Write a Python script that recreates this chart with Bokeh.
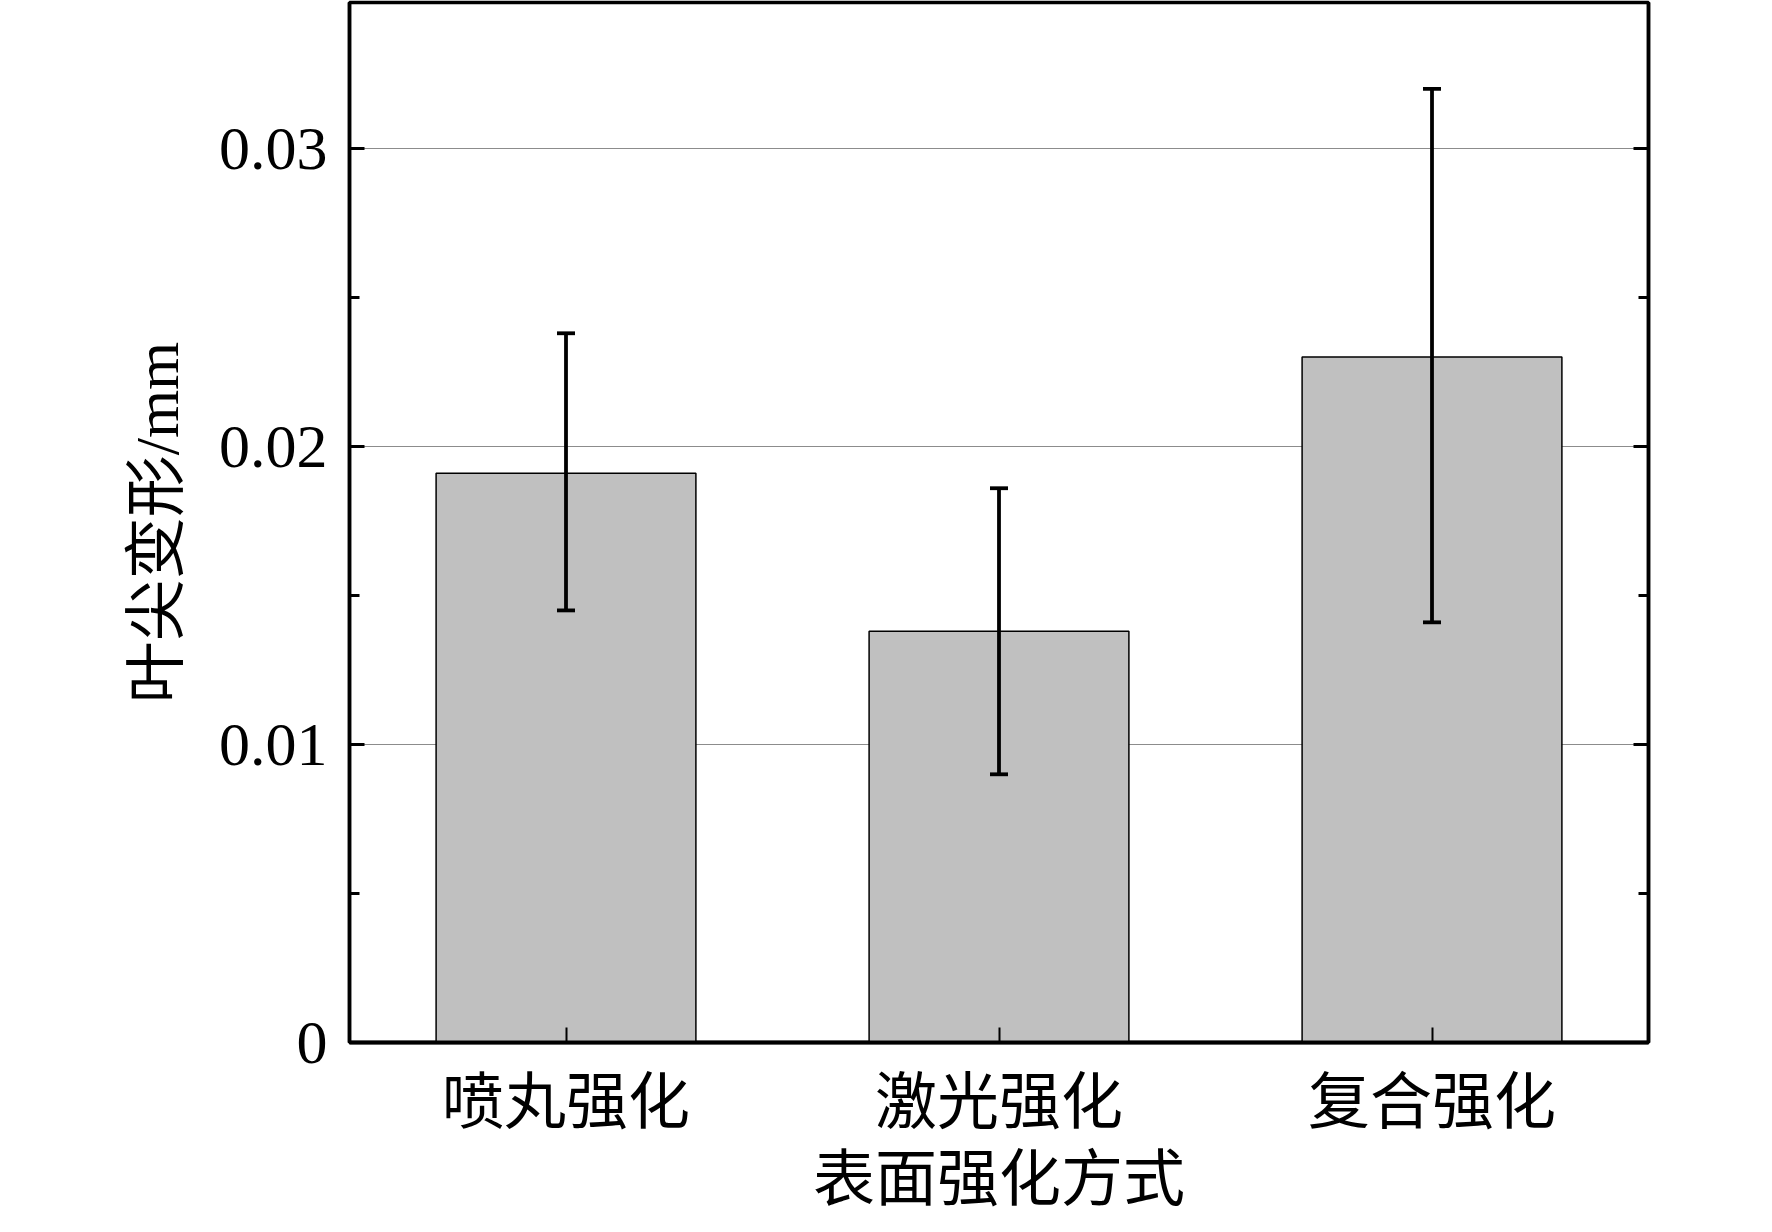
from bokeh.plotting import figure
from bokeh.models import (ColumnDataSource, Whisker, TeeHead, LinearAxis,
                          SingleIntervalTicker, Range1d, FactorRange, CustomJSTickFormatter)
from bokeh.embed import file_html
from bokeh.resources import INLINE

categories = ["喷丸强化", "激光强化", "复合强化"]
values = [0.0191, 0.0138, 0.0230]
err_upper = [0.0238, 0.0186, 0.0320]
err_lower = [0.0145, 0.0090, 0.0141]
y_ticks_interval = 0.01

FONT = "'Liberation Serif', 'Times New Roman', 'Noto Sans CJK SC'"

src = ColumnDataSource(dict(cat=categories, val=values, up=err_upper, lo=err_lower))

p = figure(width=1756, height=1216, output_backend="svg", toolbar_location=None,
           x_range=FactorRange(*categories, range_padding=0),
           y_range=Range1d(0, 0.0349),
           min_border_left=349, min_border_right=108, min_border_top=2, min_border_bottom=150)

p.vbar(x="cat", top="val", bottom=0, width=0.6, source=src,
       fill_color="#c0c0c0", line_color="black", line_width=1.5)

w = Whisker(base="cat", upper="up", lower="lo", source=src, line_color="black", line_width=3.8,
            level="overlay",
            upper_head=TeeHead(size=18, line_width=3.8, line_color="black"),
            lower_head=TeeHead(size=18, line_width=3.8, line_color="black"))
p.add_layout(w)

ticker = SingleIntervalTicker(interval=y_ticks_interval, num_minor_ticks=2)
p.yaxis.ticker = ticker
p.yaxis.major_label_overrides = {0: "0"}

rax = LinearAxis(ticker=ticker, formatter=CustomJSTickFormatter(code="return ''"))
p.add_layout(rax, "right")

for ax in p.yaxis:
    ax.major_tick_in = 15
    ax.major_tick_out = 0
    ax.minor_tick_in = 10
    ax.minor_tick_out = 0
    ax.major_tick_line_width = 3
    ax.minor_tick_line_width = 3
    ax.axis_line_width = 3.5
    ax.axis_line_color = "black"
    ax.major_tick_line_color = "black"
    ax.minor_tick_line_color = "black"

p.yaxis[0].major_label_text_font = FONT
p.yaxis[0].major_label_text_font_size = "62px"
p.yaxis[0].major_label_text_color = "black"
p.yaxis[0].major_label_standoff = 22
p.yaxis[0].axis_label = "叶尖变形/mm"
p.yaxis[0].axis_label_text_font = FONT
p.yaxis[0].axis_label_text_font_size = "62px"
p.yaxis[0].axis_label_text_font_style = "normal"
p.yaxis[0].axis_label_text_color = "black"
p.yaxis[0].axis_label_standoff = 25

xa = p.xaxis[0]
xa.major_tick_in = 15
xa.major_tick_out = 0
xa.minor_tick_in = 0
xa.minor_tick_out = 0
xa.major_tick_line_width = 2
xa.major_tick_line_color = "black"
xa.axis_line_width = 4
xa.axis_line_color = "black"
xa.major_label_text_font = FONT
xa.major_label_text_font_size = "62px"
xa.major_label_text_color = "black"
xa.major_label_standoff = 26
xa.axis_label = "表面强化方式"
xa.axis_label_text_font = FONT
xa.axis_label_text_font_size = "62px"
xa.axis_label_text_font_style = "normal"
xa.axis_label_text_color = "black"
xa.axis_label_standoff = 6

p.xgrid.grid_line_color = None
p.ygrid.grid_line_color = "#8c8c8c"
p.ygrid.grid_line_width = 1.2
p.ygrid.ticker = ticker

p.outline_line_color = "black"
p.outline_line_width = 3.5
p.background_fill_color = "white"
p.border_fill_color = "white"

open("out.html", "w").write(file_html(p, INLINE))
